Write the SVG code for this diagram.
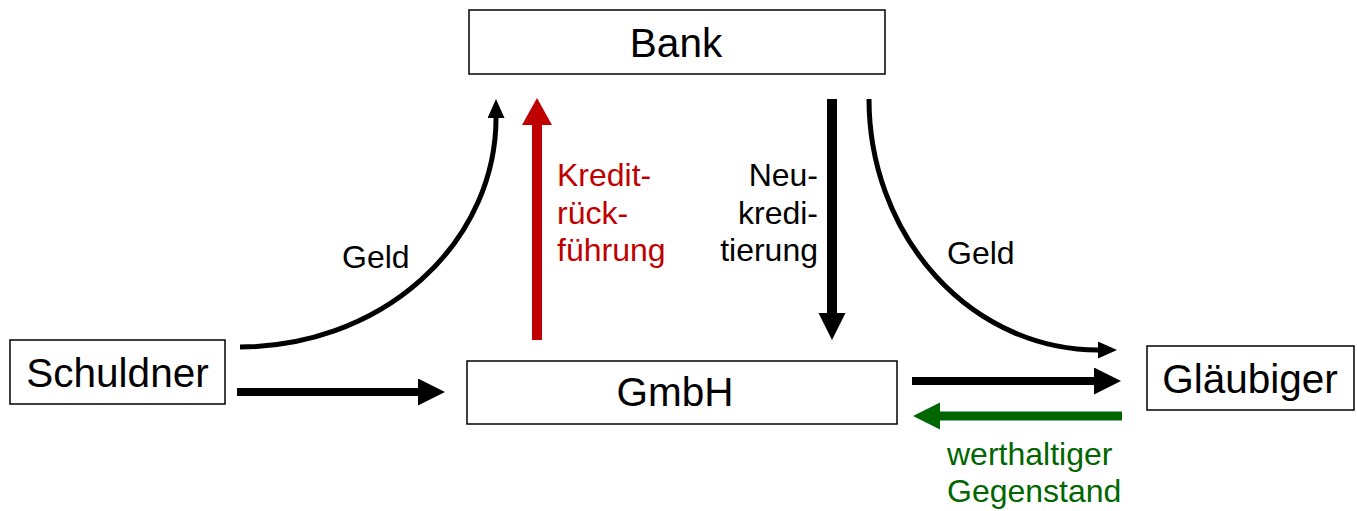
<svg xmlns="http://www.w3.org/2000/svg" width="1357" height="511" viewBox="0 0 1357 511">
<style>
.box{fill:#fff;stroke:#000;stroke-width:1.5}
.nt{font-family:"Liberation Sans",Arial,sans-serif;font-size:40.5px;fill:#000;text-anchor:middle}
.lb{font-family:"Liberation Sans",Arial,sans-serif;font-size:32px}
.blk{fill:none;stroke:#000}
</style>
<defs>
<marker id="hb" markerUnits="userSpaceOnUse" markerWidth="28" markerHeight="28" refX="0" refY="13.5" orient="auto"><path d="M0,0 L27,13.5 L0,27 z" fill="#000"/></marker>
<marker id="hr" markerUnits="userSpaceOnUse" markerWidth="28" markerHeight="31" refX="0" refY="15" orient="auto"><path d="M0,0 L27,15 L0,30 z" fill="#C00000"/></marker>
<marker id="hg" markerUnits="userSpaceOnUse" markerWidth="28" markerHeight="28" refX="0" refY="13.5" orient="auto"><path d="M0,0 L27,13.5 L0,27 z" fill="#006600"/></marker>
<marker id="hs" markerUnits="userSpaceOnUse" markerWidth="20" markerHeight="18" refX="0" refY="8.5" orient="auto"><path d="M0,0 L19,8.5 L0,17 z" fill="#000"/></marker>
</defs>
<g id="bank"><rect class="box" x="469" y="10" width="416" height="64"/><text class="nt" x="676" y="57">Bank</text></g>
<g id="schuldner"><rect class="box" x="10" y="340" width="215" height="64"/><text class="nt" x="117.5" y="387">Schuldner</text></g>
<g id="gmbh"><rect class="box" x="467" y="361" width="430" height="63"/><text class="nt" x="675" y="406">GmbH</text></g>
<g id="glaeubiger"><rect class="box" x="1147" y="346" width="207" height="64"/><text class="nt" x="1250" y="393">Gläubiger</text></g>
<g id="connectors">
<path class="blk" stroke-width="5" d="M240,347 A256,229 0 0 0 496,118" marker-end="url(#hs)"/>
<path class="blk" stroke-width="5" d="M869,99 A229,251 0 0 0 1098,350" marker-end="url(#hs)"/>
<line x1="237" y1="392" x2="418" y2="392" stroke="#000" stroke-width="8" marker-end="url(#hb)"/>
<line x1="912" y1="381" x2="1094" y2="381" stroke="#000" stroke-width="8" marker-end="url(#hb)"/>
<line x1="1122" y1="416" x2="940" y2="416" stroke="#006600" stroke-width="9" marker-end="url(#hg)"/>
<line x1="537" y1="340" x2="537" y2="125" stroke="#C00000" stroke-width="10" marker-end="url(#hr)"/>
<line x1="832" y1="99" x2="832" y2="313" stroke="#000" stroke-width="10" marker-end="url(#hb)"/>
<text class="lb" x="342" y="268" fill="#000">Geld</text>
<text class="lb" x="947" y="264" fill="#000">Geld</text>
<text class="lb" fill="#C00000"><tspan x="557" y="186">Kredit-</tspan><tspan x="557" y="223.5">rück-</tspan><tspan x="557" y="261">führung</tspan></text>
<text class="lb" fill="#000" text-anchor="end"><tspan x="818" y="186">Neu-</tspan><tspan x="818" y="223.5">kredi-</tspan><tspan x="818" y="261">tierung</tspan></text>
<text class="lb" fill="#006600"><tspan x="947" y="465">werthaltiger</tspan><tspan x="947" y="502">Gegenstand</tspan></text>
</g>
</svg>
